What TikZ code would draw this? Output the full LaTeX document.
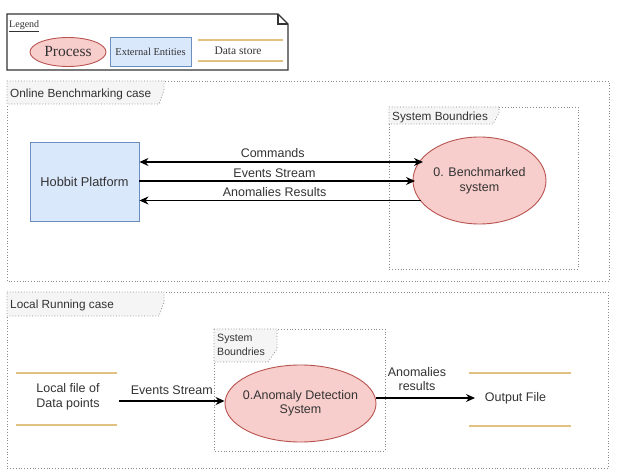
\documentclass[tikz,border=0pt]{standalone}
\usepackage{fontspec}
\setmainfont{Liberation Sans}
\newfontfamily\tnr{Liberation Serif}
\usetikzlibrary{arrows.meta,shapes.geometric,calc}
\definecolor{redfill}{HTML}{F8CECC}
\definecolor{redline}{HTML}{B85450}
\definecolor{bluefill}{HTML}{DAE8FC}
\definecolor{blueline}{HTML}{6C8EBF}
\definecolor{storeline}{HTML}{E2C282}
\definecolor{framegray}{HTML}{8A8A8A}
\definecolor{tabfill}{HTML}{F5F5F5}
\definecolor{txt}{HTML}{333333}
\tikzset{
  lbl/.style={font=\fontsize{12.5}{15}\selectfont, text=txt, inner sep=0pt},
  tablbl/.style={font=\fontsize{11.8}{14}\selectfont, text=txt, inner sep=0pt},
  proc/.style={ellipse, draw=redline, fill=redfill, line width=0.9pt, inner sep=0pt, text=txt},
  ext/.style={rectangle, draw=blueline, fill=bluefill, line width=0.9pt, inner sep=0pt, text=txt},
  frm/.style={draw=framegray, dotted, line width=0.8pt},
  tabst/.style={draw=framegray, dotted, line width=0.8pt, fill=tabfill},
  store/.style={draw=storeline, line width=1.3pt},
  flow/.style={line width=1.3pt, -{Stealth[length=9pt,width=8pt]}},
  flowb/.style={line width=1.3pt, {Stealth[length=9pt,width=8pt]}-{Stealth[length=9pt,width=8pt]}},
}
\begin{document}
\begin{tikzpicture}[x=1pt,y=-1pt]
\useasboundingbox (0,0) rectangle (630,473);
\fill[white] (0,0) rectangle (630,473);

% Legend
\draw[line width=1.2pt, draw=black!80] (7,14) -- (278,14) -- (288,24) -- (288,70) -- (7,70) -- cycle;
\draw[line width=1.2pt, draw=black!80] (278,14) -- (278,24) -- (288,24);
\node[anchor=west, inner sep=0pt, text=txt, font=\tnr\fontsize{10}{12}\selectfont] (leg) at (9,26) {\underline{Legend}};
\node[proc, minimum width=76pt, minimum height=29pt, font=\tnr\fontsize{15.5}{17}\selectfont] (lproc) at (68,52) {Process};
\node[ext, minimum width=81pt, minimum height=29pt, font=\tnr\fontsize{10.5}{12}\selectfont] (lext) at (150.5,51.5) {External Entities};
\draw[store] (198,40) -- (283,40);
\draw[store] (198,61) -- (283,61);
\node[inner sep=0pt, text=txt, font=\tnr\fontsize{11.5}{13}\selectfont] (lstore) at (238,51) {Data store};

% Online Benchmarking case frame
\draw[frm] (7,81) rectangle (609,281);
\draw[tabst] (7,81) -- (164,81) -- (164,90) -- (159,104) -- (7,104) -- cycle;
\node[tablbl, anchor=west] (onl) at (10,94) {Online Benchmarking case};

% System boundaries (top)
\draw[frm] (389,107) rectangle (578,269);
\draw[tabst] (389,107) -- (499,107) -- (499,113) -- (493,124) -- (389,124) -- cycle;
\node[tablbl, anchor=west] (sb1) at (392,117) {System Boundries};

\node[ext, minimum width=109pt, minimum height=79pt, font=\fontsize{12.8}{15}\selectfont] (hob) at (84.5,181.5) {Hobbit Platform};
\node[proc, minimum width=133pt, minimum height=87pt] (bench) at (479.5,180.5) {};
\node[lbl, align=center, font=\fontsize{12.5}{15}\selectfont] (benchtxt) at (bench.center) {0. Benchmarked\\system};

\coordinate (b1) at (423,162);
\coordinate (b2) at (415,181);
\coordinate (b3) at (421,200.5);
\draw[flowb] (hob.east |- b1) -- (b1) node[lbl, pos=0.47, above=3.5pt] (lc) {Commands};
\draw[flow] (hob.east |- b2) -- (b2) node[lbl, pos=0.49, above=3pt] (le) {Events Stream};
\draw[flow] (b3) -- (hob.east |- b3) node[lbl, pos=0.52, above=3pt] (la) {Anomalies Results};

% Local Running case frame
\draw[frm] (7,292) rectangle (608,468);
\draw[tabst] (7,292) -- (164,292) -- (164,302) -- (159,316) -- (7,316) -- cycle;
\node[tablbl, anchor=west] (loc) at (10,305) {Local Running case};

\draw[frm] (214,329) rectangle (385,451);
\draw[tabst] (214,329) -- (277,329) -- (277,349) -- (268,362) -- (214,362) -- cycle;
\node[tablbl, anchor=north west, align=left, font=\fontsize{10.6}{13.5}\selectfont] (sb2) at (217,334) {System\\Boundries};

\draw[store] (16,373) -- (117,373);
\draw[store] (16,425) -- (117,425);
\node[lbl, align=center] (lf) at (68,396.5) {Local file of\\Data points};

\node[proc, minimum width=151pt, minimum height=77pt] (anom) at (300.5,403.5) {};
\node[lbl, align=center, font=\fontsize{12.5}{14.5}\selectfont] (anomtxt) at (anom.center) {0.Anomaly Detection\\System};

\draw[store] (469,373) -- (571,373);
\draw[store] (469,426) -- (571,426);
\node[lbl] (out) at (515.5,398) {Output File};

\draw[flow] (119,401) -- (anom.west |- 0,401) node[lbl, midway, above=6pt] (les) {Events Stream};
\draw[flow] (anom.east |- 0,398) -- (475,398);
\node[lbl, align=center, font=\fontsize{12.5}{14}\selectfont] (lar) at (417,379) {Anomalies\\results};
\end{tikzpicture}
\end{document}
